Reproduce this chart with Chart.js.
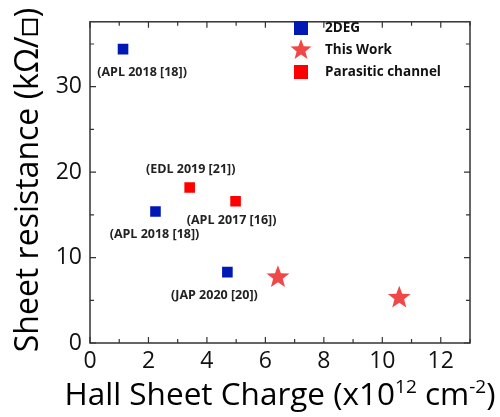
<!DOCTYPE html>
<html>
<head>
<meta charset="utf-8">
<script src="https://cdn.jsdelivr.net/npm/chart.js@4"></script>
<style>
  html, body { margin: 0; padding: 0; background: #fff; }
  #wrap { width: 500px; height: 417px; }
</style>
</head>
<body>
<div id="wrap"><canvas id="chart" width="500" height="417"></canvas></div>
<script>
// values
const deg2Charge = [1.13, 2.24, 4.70];
const deg2Resist = [34.4, 15.4, 8.3];
const deg2Refs = ['(APL 2018 [18])', '(APL 2018 [18])', '(JAP 2020 [20])'];

const workCharge = [6.43, 10.58];
const workResist = [7.7, 5.3];

const paraCharge = [3.41, 4.98];
const paraResist = [18.2, 16.6];
const paraRefs = ['(EDL 2019 [21])', '(APL 2017 [16])'];

const xTicks = [0, 2, 4, 6, 8, 10, 12];
const yTicks = [0, 10, 20, 30];

const FONT = '"Open Sans", Lato, sans-serif';

const toPoints = (xs, ys) => xs.map((x, i) => ({ x: x, y: ys[i] }));

// where each reference label sits relative to its marker (pixels)
const labelOffsets = {
    0: [[19, 23], [-1, 23], [-13, 23]],
    2: [[1, -18], [-4, 19]]
};
const labelTexts = { 0: deg2Refs, 2: paraRefs };

function drawStar(ctx, cx, cy, r) {
    ctx.beginPath();
    for (let k = 0; k < 10; k++) {
        const rr = k % 2 === 0 ? r : r * 0.42;
        const ang = -Math.PI / 2 + k * Math.PI / 5;
        ctx.lineTo(cx + rr * Math.cos(ang), cy + rr * Math.sin(ang));
    }
    ctx.closePath();
    ctx.fill();
}

// frame, inward ticks, titles, legend and reference labels
const decorPlugin = {
    id: 'decor',
    afterDraw(chart) {
        const ctx = chart.ctx;
        const a = chart.chartArea;
        const xs = chart.scales.x, ys = chart.scales.y;
        ctx.save();
        ctx.strokeStyle = '#333';
        ctx.lineWidth = 1.5;
        ctx.strokeRect(a.left, a.top, a.right - a.left, a.bottom - a.top);

        ctx.lineWidth = 1.2;
        ctx.beginPath();
        for (let v = 0; v <= 13; v++) {
            const px = xs.getPixelForValue(v);
            const len = v % 2 === 0 ? 6 : 4;
            ctx.moveTo(px, a.bottom); ctx.lineTo(px, a.bottom - len);
            ctx.moveTo(px, a.top); ctx.lineTo(px, a.top + len);
        }
        for (let v = 0; v <= 35; v += 5) {
            const py = ys.getPixelForValue(v);
            const len = v % 10 === 0 ? 6 : 4;
            ctx.moveTo(a.left, py); ctx.lineTo(a.left + len, py);
            ctx.moveTo(a.right, py); ctx.lineTo(a.right - len, py);
        }
        ctx.stroke();

        // y title
        ctx.fillStyle = '#000';
        ctx.font = '32px ' + FONT;
        ctx.textAlign = 'center';
        ctx.textBaseline = 'middle';
        ctx.save();
        ctx.translate(29, 180);
        ctx.rotate(-Math.PI / 2);
        ctx.fillText('Sheet resistance (kΩ/□)', 0, 0);
        ctx.restore();

        // x title with superscripts
        const parts = [['Hall Sheet Charge (x10', false], ['12', true], [' cm', false], ['-2', true], [')', false]];
        const big = '31.5px ' + FONT, small = '19px ' + FONT;
        let total = 0;
        parts.forEach(p => { ctx.font = p[1] ? small : big; total += ctx.measureText(p[0]).width; });
        let x = 280 - total / 2;
        const base = 405;
        ctx.textAlign = 'left';
        ctx.textBaseline = 'alphabetic';
        parts.forEach(p => {
            ctx.font = p[1] ? small : big;
            ctx.fillText(p[0], x, p[1] ? base - 12 : base);
            x += ctx.measureText(p[0]).width;
        });

        // reference labels
        ctx.font = 'bold 12.5px ' + FONT;
        ctx.fillStyle = '#222';
        ctx.textAlign = 'center';
        ctx.textBaseline = 'middle';
        Object.keys(labelTexts).forEach(di => {
            const meta = chart.getDatasetMeta(+di);
            meta.data.forEach((pt, i) => {
                const off = labelOffsets[di][i];
                ctx.fillText(labelTexts[di][i], pt.x + off[0], pt.y + off[1]);
            });
        });

        // legend
        const lx = 301, ly = 28, gap = 22;
        chart.data.datasets.forEach((ds, i) => {
            const cy = ly + i * gap;
            ctx.fillStyle = ds.backgroundColor;
            if (ds.pointStyle === 'star') {
                drawStar(ctx, lx, cy, 11);
            } else {
                ctx.fillRect(lx - 7, cy - 7, 14, 14);
            }
            ctx.fillStyle = '#111';
            ctx.font = 'bold 13.5px ' + FONT;
            ctx.textAlign = 'left';
            ctx.fillText(ds.label, 325, cy);
        });
        ctx.restore();
    }
};

const ctx = document.getElementById('chart').getContext('2d');
new Chart(ctx, {
    type: 'scatter',
    data: {
        datasets: [
            {
                label: '2DEG',
                data: toPoints(deg2Charge, deg2Resist),
                pointStyle: 'rect',
                backgroundColor: '#0019b4',
                borderColor: '#0019b4',
                borderWidth: 0,
                pointRadius: 7.5
            },
            {
                label: 'This Work',
                data: toPoints(workCharge, workResist),
                pointStyle: 'star',
                backgroundColor: '#f04848',
                borderColor: '#f04848',
                borderWidth: 0,
                pointRadius: 0
            },
            {
                label: 'Parasitic channel',
                data: toPoints(paraCharge, paraResist),
                pointStyle: 'rect',
                backgroundColor: '#ff0000',
                borderColor: '#ff0000',
                borderWidth: 0,
                pointRadius: 7.5
            }
        ]
    },
    options: {
        responsive: false,
        animation: false,
        layout: { padding: { top: 17, right: 30, left: 0, bottom: 0 } },
        plugins: {
            legend: { display: false },
            tooltip: { enabled: false }
        },
        scales: {
            x: {
                type: 'linear',
                min: 0,
                max: 13,
                afterBuildTicks: s => { s.ticks = xTicks.map(v => ({ value: v })); },
                afterFit: s => { s.height = 74; },
                grid: { display: false, drawTicks: false },
                border: { display: false },
                ticks: { color: '#111', font: { size: 23, family: FONT }, padding: 5 }
            },
            y: {
                type: 'linear',
                min: 0,
                max: 37.6,
                afterBuildTicks: s => { s.ticks = yTicks.map(v => ({ value: v })); },
                afterFit: s => { s.width = 90; },
                grid: { display: false, drawTicks: false },
                border: { display: false },
                ticks: { color: '#111', font: { size: 23, family: FONT }, padding: 8 }
            }
        }
    },
    plugins: [decorPlugin, {
        // stars are drawn by hand so their shape matches the filled five-point star
        id: 'stars',
        afterDatasetsDraw(chart) {
            const meta = chart.getDatasetMeta(1);
            chart.ctx.save();
            chart.ctx.fillStyle = chart.data.datasets[1].backgroundColor;
            meta.data.forEach(pt => drawStar(chart.ctx, pt.x, pt.y, 12));
            chart.ctx.restore();
        }
    }]
});
</script>
</body>
</html>
